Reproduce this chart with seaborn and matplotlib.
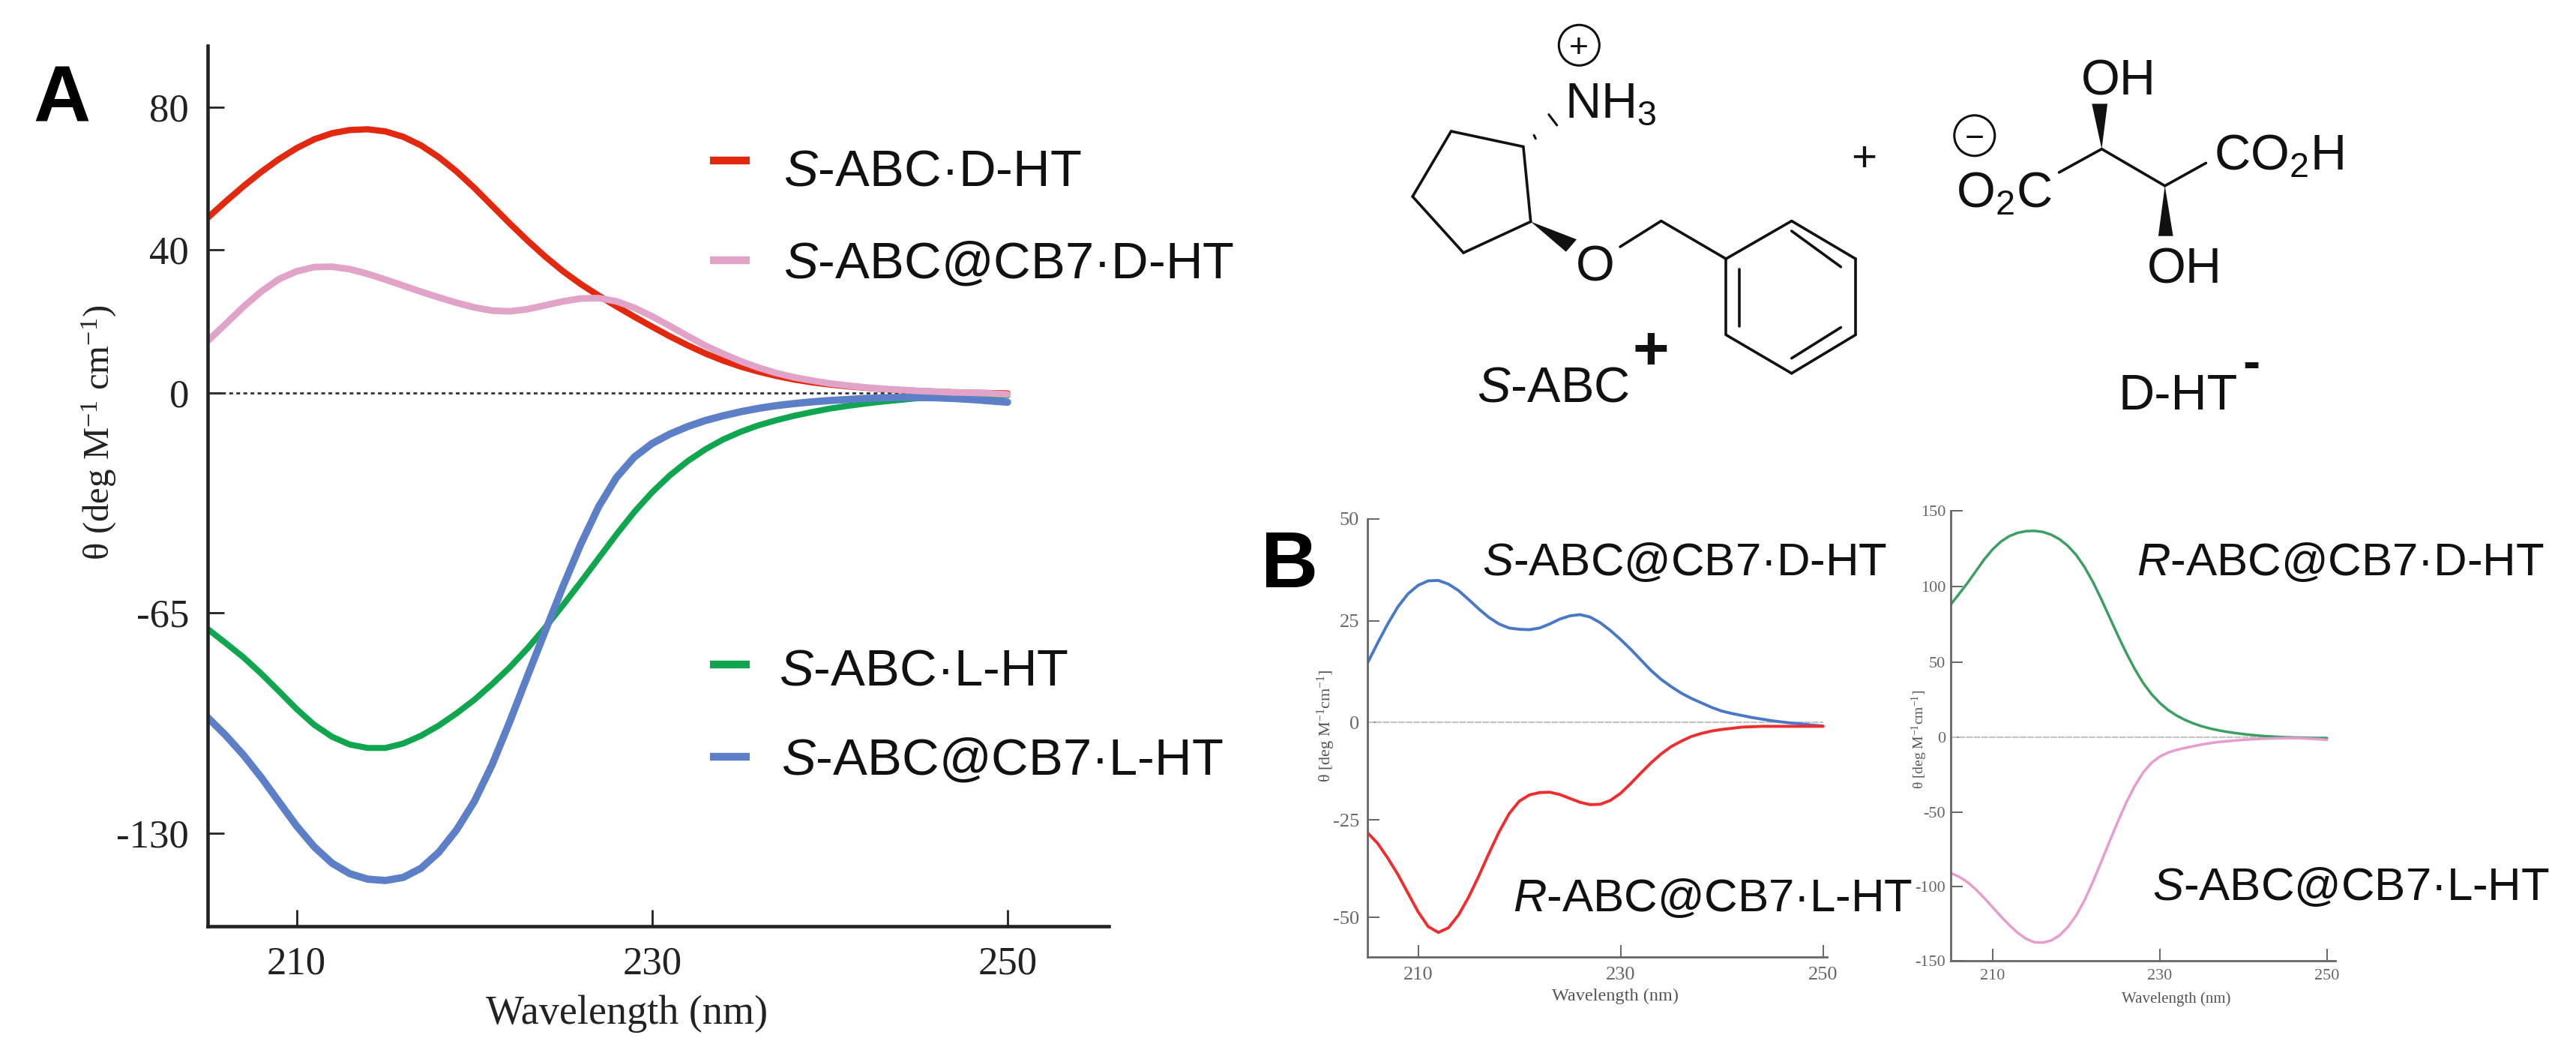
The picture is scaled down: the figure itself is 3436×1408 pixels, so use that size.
import numpy as np
import pandas as pd
import seaborn as sns
import matplotlib.pyplot as plt
from matplotlib.patches import Circle, Polygon

W, H = 3436, 1408

# values, one per nm
wavelength = list(range(205, 251))

a_d_ht = [49, 53.5, 57.8, 61.8, 65.4, 68.5, 71, 72.7, 73.6, 73.8, 73.2, 71.7, 69.3, 66, 62, 57.4,
          52.4, 47.4, 42.6, 38.1, 34, 30.4, 27.2, 24.2, 21.3, 18.5, 15.8, 13.3, 11, 9, 7.3, 5.9,
          4.7, 3.7, 2.9, 2.3, 1.8, 1.4, 1, 0.7, 0.5, 0.3, 0.1, 0, -0.1, -0.2]
a_cb7_d_ht = [14.5, 19.2, 24, 28.3, 31.8, 34, 35.2, 35.3, 34.6, 33.3, 31.7, 30, 28.3, 26.7, 25.2, 23.9,
              23, 22.8, 23.4, 24.5, 25.6, 26.4, 26.5, 25.6, 23.8, 21.4, 18.7, 15.9, 13.2, 10.9, 8.8, 7,
              5.5, 4.3, 3.4, 2.6, 2, 1.5, 1.1, 0.8, 0.5, 0.3, 0.1, 0, -0.2, -0.5]
a_l_ht = [-69.7, -73.8, -78, -82.8, -88, -93.3, -98, -101.5, -103.8, -104.8, -104.8, -103.5, -101.2, -98.2, -94.6, -90.6,
          -86, -81, -75.4, -69.2, -62.6, -55.8, -48.8, -41.8, -35.2, -29.4, -24.4, -20.2, -16.7, -13.8, -11.5, -9.6,
          -8.1, -6.8, -5.7, -4.7, -3.9, -3.2, -2.6, -2.1, -1.6, -1.2, -0.9, -0.7, -0.7, -0.8]
a_cb7_l_ht = [-95.8, -101, -106.8, -113.4, -120.6, -127.8, -134, -138.8, -141.9, -143.5, -143.9, -143, -140.3, -135.6, -129, -120.6,
              -109.8, -97, -83.5, -70.2, -57, -44.6, -33.6, -25, -19, -15, -12.2, -10, -8.2, -6.8, -5.6, -4.6,
              -3.8, -3.2, -2.7, -2.3, -2, -1.7, -1.5, -1.4, -1.4, -1.5, -1.7, -2, -2.4, -2.8]

b1_s_d = [14.6, 19.5, 24.2, 28.4, 31.6, 33.7, 34.8, 34.9, 34, 32.4, 30.2, 27.9, 25.8, 24.2, 23.2, 22.9,
          22.8, 23.2, 24.2, 25.4, 26.2, 26.5, 25.9, 24.5, 22.6, 20.4, 18, 15.4, 12.8, 10.6, 8.8, 7.2,
          5.9, 4.8, 3.7, 2.8, 2.2, 1.7, 1.2, 0.8, 0.4, 0.1, -0.2, -0.4, -0.7, -0.9]
b1_r_l = [-28.3, -31, -34.8, -39, -43.8, -48.6, -52.4, -53.9, -52.7, -49.4, -44.8, -39.4, -33.6, -28.1, -23.4, -20.2,
          -18.6, -18, -17.9, -18.5, -19.5, -20.5, -21.1, -21, -20, -18.2, -15.7, -13, -10.4, -8.1, -6.2, -4.8,
          -3.6, -2.8, -2.2, -1.8, -1.5, -1.2, -1.1, -1, -1, -1, -1, -1, -1, -1]
b2_r_d = [88, 95, 102.2, 110, 117.8, 124.4, 129.6, 133.2, 135.4, 136.5, 136.7, 136, 134.2, 131.2, 126.8, 120.8,
          112.8, 103, 91.6, 79.5, 67.4, 55.9, 45.4, 36.2, 28.8, 22.9, 18.2, 14.6, 11.7, 9.4, 7.5, 6,
          4.8, 3.8, 3, 2.3, 1.7, 1.2, 0.8, 0.5, 0.2, 0, -0.1, -0.3, -0.4, -0.4]
b2_s_l = [-91, -93.6, -97.2, -102, -107.8, -114, -120.2, -126, -131.2, -135.2, -137.6, -137.8, -136.4, -133, -127.4, -119.6,
          -109.5, -97, -83.5, -69.8, -56.3, -43.6, -32.6, -23.6, -17, -12.8, -10.1, -8.3, -7, -5.8, -4.7, -3.8,
          -3, -2.5, -2, -1.5, -1.2, -0.9, -0.7, -0.5, -0.4, -0.4, -0.5, -0.8, -1.1, -1.5]

x_ticks = [210, 230, 250]
a_y_ticks = [-130, -65, 0, 40, 80]
b1_y_ticks = [-50, -25, 0, 25, 50]
b2_y_ticks = [-150, -100, -50, 0, 50, 100, 150]

RED, PINK, GREEN, BLUE = "#e2290f", "#e2a3c8", "#10a54f", "#5c7fc8"

sns.set_theme(style="ticks")
plt.rcParams["font.family"] = ["Liberation Serif", "DejaVu Serif"]
plt.rcParams["mathtext.fontset"] = "custom"
plt.rcParams["mathtext.it"] = "Liberation Sans:italic"
plt.rcParams["mathtext.rm"] = "Liberation Sans"
plt.rcParams["mathtext.default"] = "regular"

fig = plt.figure(figsize=(W / 100, H / 100), dpi=100)


def make_axes(left, top, right, bottom, up, down, ylim, xlim):
    """axes placed in pixels; the spectra use a slightly different y scale above and below zero"""
    ax = fig.add_axes([left / W, 1 - bottom / H, (right - left) / W, (bottom - top) / H])
    ax.set_yscale("function", functions=(
        lambda v: np.where(np.asarray(v) > 0, np.asarray(v) * up, np.asarray(v) * down),
        lambda v: np.where(np.asarray(v) > 0, np.asarray(v) / up, np.asarray(v) / down)))
    ax.set_ylim(*ylim)
    ax.set_xlim(*xlim)
    ax.patch.set_alpha(0)
    sns.despine(ax=ax)
    return ax


def style_axes(ax, y_ticks, color, spine, tick_len, tick_w, size, pad_x, pad_y):
    ax.set_xticks(x_ticks)
    ax.set_yticks(y_ticks)
    ax.set_yticklabels([str(t) for t in y_ticks])
    ax.minorticks_off()
    ax.tick_params(axis="x", direction="in", length=tick_len, width=tick_w, color=color,
                   labelcolor=color, labelsize=size, pad=pad_x)
    ax.tick_params(axis="y", direction="in", length=tick_len, width=tick_w, color=color,
                   labelcolor=color, labelsize=size, pad=pad_y)
    for side in ["left", "bottom"]:
        ax.spines[side].set_linewidth(spine)
        ax.spines[side].set_color(color)


def spectrum(ax, values, color, lw):
    df = pd.DataFrame({"wavelength": wavelength, "theta": values})
    sns.lineplot(data=df, x="wavelength", y="theta", color=color, lw=lw, ax=ax, errorbar=None)


# panel A
ax_a = make_axes(277, 61, 1479, 1235, 4.76, 4.52, (-157.4, 97.2), (205, 255.7))
ax_a.plot([205, 250], [0, 0], color="#333333", lw=2, ls=(0, (1.8, 1.6)))
spectrum(ax_a, a_d_ht, RED, 6)
spectrum(ax_a, a_l_ht, GREEN, 5.8)
spectrum(ax_a, a_cb7_l_ht, BLUE, 7)
spectrum(ax_a, a_cb7_d_ht, PINK, 6.4)
style_axes(ax_a, a_y_ticks, "#222222", 3.3, 16, 2, 38, 19, 18)

# panel B, left
ax_b1 = make_axes(1824, 692, 2437, 1276, 5.43, 5.2, (-60.2, 50), (205, 250.4))
ax_b1.plot([205, 250], [0, 0], color="#c4c4c4", lw=1.6, ls=(0, (4, 0.6)))
spectrum(ax_b1, b1_s_d, "#4a78c8", 2.8)
spectrum(ax_b1, b1_r_l, "#f02c2c", 2.8)
style_axes(ax_b1, b1_y_ticks, "#666666", 2, 11.5, 1.4, 19, 9, 8)

# panel B, right
ax_b2 = make_axes(2602, 681, 3115, 1281, 2.015, 1.983, (-150, 150), (205, 251))
ax_b2.plot([205, 250], [0, 0], color="#c4c4c4", lw=1.6, ls=(0, (4, 0.6)))
spectrum(ax_b2, b2_r_d, "#3c9f62", 2.5)
spectrum(ax_b2, b2_s_l, "#e79ccf", 2.5)
style_axes(ax_b2, b2_y_ticks, "#666666", 2, 11.5, 1.4, 16, 8, 5)

for ax in [ax_a, ax_b1, ax_b2]:
    ax.set_xlabel("")
    ax.set_ylabel("")

# everything else sits on one overlay in image pixels
ov = fig.add_axes([0, 0, 1, 1], zorder=10)
ov.set_xlim(0, W)
ov.set_ylim(H, 0)
ov.axis("off")


def label(x, y, s, size, color="#111111", family="Liberation Sans", **kw):
    kw.setdefault("va", "baseline")
    ov.text(x, y, s, fontsize=size, color=color, family=family, **kw)


# axis titles
label(836, 1365, "Wavelength (nm)", 39, "#222222", "Liberation Serif", ha="center")
label(132, 577, r"θ (deg M$^{-1}$ cm$^{-1}$)", 35, "#222222", "Liberation Serif",
      rotation=90, ha="center", va="center")
label(2155, 1334, "Wavelength (nm)", 17.5, "#555555", "Liberation Serif", ha="center")
label(1769, 968, r"θ [deg M$^{-1}$cm$^{-1}$]", 16, "#555555", "Liberation Serif",
      rotation=90, ha="center", va="center")
label(2903, 1337, "Wavelength (nm)", 15, "#555555", "Liberation Serif", ha="center")
label(2560, 986, r"θ [deg M$^{-1}$cm$^{-1}$]", 14, "#555555", "Liberation Serif",
      rotation=90, ha="center", va="center")

# panel letters
label(44, 162, "A", 76, "black", fontweight="bold")
label(1682, 783, "B", 76, "black", fontweight="bold")

# legend of panel A
legend_rows = [(214, 248, 1045, RED, r"$\mathit{S}$-ABC·D-HT"),
               (347, 371, 1045, PINK, r"$\mathit{S}$-ABC@CB7·D-HT"),
               (886, 913, 1039, GREEN, r"$\mathit{S}$-ABC·L-HT"),
               (1009, 1033, 1042, BLUE, r"$\mathit{S}$-ABC@CB7·L-HT")]
for line_y, text_y, text_x, color, text in legend_rows:
    ov.plot([947, 1000], [line_y, line_y], color=color, lw=7.5, solid_capstyle="butt")
    label(text_x, text_y, text, 49.5)

# labels of panel B
label(1977, 767, r"$\mathit{S}$-ABC@CB7·D-HT", 44.5)
label(2018, 1215, r"$\mathit{R}$-ABC@CB7·L-HT", 44.5)
label(2850, 767, r"$\mathit{R}$-ABC@CB7·D-HT", 44.5)
label(2871, 1200, r"$\mathit{S}$-ABC@CB7·L-HT", 44.5)


# structures
def p(zx, zy):
    return 1720 + zx / 0.9138, zy / 2.24


def bond(a, b, lw=2.6):
    (x0, y0), (x1, y1) = p(*a), p(*b)
    ov.plot([x0, x1], [y0, y1], color="#111111", lw=lw, solid_capstyle="round")


def wedge(pts):
    ov.add_patch(Polygon([p(*q) for q in pts], closed=True, color="#111111", lw=0))


ring = [(197, 392), (285, 438), (294, 662), (212, 755), (150, 587), (197, 392)]
for a, b in zip(ring[:-1], ring[1:]):
    bond(a, b)
benzene = [(532, 773), (612, 660), (690, 773), (690, 1000), (612, 1115), (532, 1000), (532, 773)]
for a, b in zip(benzene[:-1], benzene[1:]):
    bond(a, b)
for a, b in [((548, 805), (548, 975)), ((612, 690), (672, 797)), ((672, 978), (612, 1070)),
             ((403, 737), (453, 660)), ((453, 660), (532, 773)),
             ((938, 515), (990, 445)), ((990, 445), (1067, 555)), ((1067, 555), (1117, 487))]:
    bond(a, b)
wedge([(294, 662), (350, 715), (337, 752)])
wedge([(990, 445), (978, 310), (997, 310)])
wedge([(1067, 555), (1059, 705), (1077, 705)])
bond((298, 404), (300, 414), 2.2)
bond((316, 342), (326, 374), 2.2)

for center, sign in [((353, 135), "+"), ((835, 405), "−")]:
    cx, cy = p(*center)
    ov.add_patch(Circle((cx, cy), 27, fill=False, ec="#111111", lw=2.2))
    label(cx, cy, sign, 32, ha="center", va="center_baseline")

for zx, zy, text in [(335, 350, r"NH$_{3}$"), (965, 283, "OH"), (1045, 845, "OH"),
                     (812, 620, r"O$_{2}$C"), (1127, 508, r"CO$_{2}$H"),
                     (228, 1200, r"$\mathit{S}$-ABC"), (1010, 1222, "D-HT")]:
    x, y = p(zx, zy)
    label(x, y, text, 48)
x, y = p(373, 785)
label(x, y, "O", 48, ha="center", va="center_baseline")
x, y = p(700, 463)
label(x, y, "+", 42, ha="center", va="center_baseline")
x, y = p(440, 1035)
label(x, y, "+", 60, ha="center", va="center_baseline", fontweight="bold")
x, y = p(1172, 1075)
label(x, y, "-", 50, ha="center", va="center_baseline", fontweight="bold")

fig.savefig("out.png", dpi=100, facecolor="white")
